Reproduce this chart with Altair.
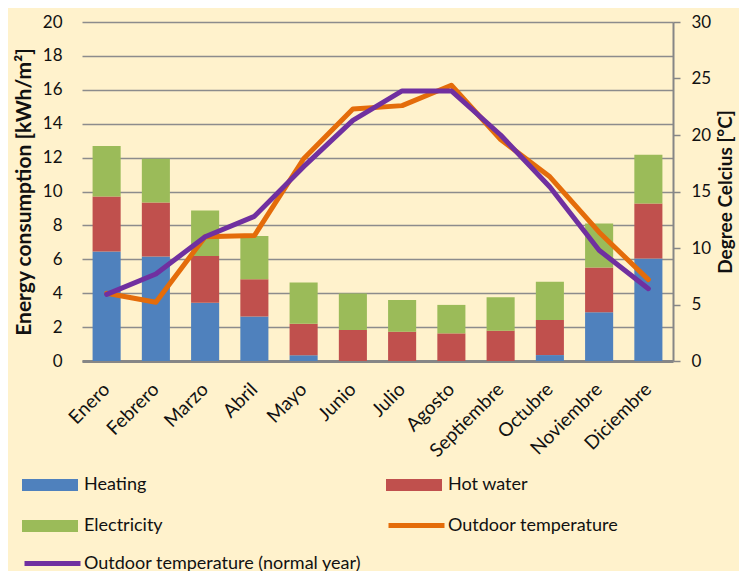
import altair as alt
import pandas as pd

months = ["Enero", "Febrero", "Marzo", "Abril", "Mayo", "Junio", "Julio",
          "Agosto", "Septiembre", "Octubre", "Noviembre", "Diciembre"]
heating = [6.46, 6.16, 3.44, 2.62, 0.34, 0.0, 0.0, 0.0, 0.0, 0.35, 2.88, 6.04]
hot_water = [3.24, 3.19, 2.76, 2.21, 1.86, 1.83, 1.73, 1.63, 1.79, 2.07, 2.63, 3.25]
electricity = [2.98, 2.58, 2.68, 2.55, 2.43, 2.15, 1.87, 1.68, 1.97, 2.25, 2.60, 2.88]
outdoor_temp = [6.0, 5.2, 11.0, 11.1, 17.9, 22.3, 22.6, 24.4, 19.6, 16.3, 11.4, 7.2]
normal_temp = [5.9, 7.7, 11.0, 12.8, 17.2, 21.3, 23.9, 23.9, 20.0, 15.4, 9.8, 6.4]

bar_series = ["Heating", "Hot water", "Electricity"]
bar_colors = ["#4F81BD", "#C0504D", "#9BBB59"]
left_ticks = list(range(0, 21, 2))
right_ticks = list(range(0, 31, 5))

FONT = "Lato"
TXT = "#111111"
GRID = "#8C8C8C"
LBL = 18

rows = []
for i, m in enumerate(months):
    for k, (name, vals) in enumerate(zip(bar_series, [heating, hot_water, electricity])):
        rows.append({"month": m, "series": name, "value": vals[i], "idx": k})
bars_df = pd.DataFrame(rows)
orange_df = pd.DataFrame({"month": months, "temp": outdoor_temp,
                          "series": ["Outdoor temperature"] * 12})
purple_df = pd.DataFrame({"month": months, "temp": normal_temp,
                          "series": ["Outdoor temperature (normal year)"] * 12})

x_enc = alt.X("month:N", sort=months, title=None,
              scale=alt.Scale(paddingInner=0.43, paddingOuter=0.215),
              axis=alt.Axis(labelAngle=-45, labelAlign="right", labelBaseline="middle",
                            labelPadding=25, labelFontSize=19, labelFont=FONT,
                            labelColor=TXT, ticks=False, domainColor="#868686",
                            domainWidth=3, grid=False))

rect_path = "M-1,-0.214L1,-0.214L1,0.214L-1,0.214Z"

bars = alt.Chart(bars_df).mark_bar().encode(
    x=x_enc,
    y=alt.Y("value:Q", stack="zero",
            scale=alt.Scale(domain=[0, 20], nice=False),
            axis=alt.Axis(values=left_ticks, grid=True, gridColor=GRID, gridWidth=1.3,
                          domain=False, ticks=False, labelPadding=20,
                          labelFontSize=17, labelFont=FONT, labelColor=TXT,
                          title="Energy consumption [kWh/m²]", titleFont=FONT,
                          titleFontSize=21, titleFontWeight="bold", titleColor=TXT,
                          titlePadding=8)),
    color=alt.Color("series:N", scale=alt.Scale(domain=bar_series, range=bar_colors),
                    legend=alt.Legend(orient="none", legendX=-60, legendY=435,
                                      columns=2, direction="horizontal", title=None,
                                      symbolType=rect_path,
                                      symbolSize=3136, symbolStrokeWidth=0,
                                      symbolOpacity=1,
                                      columnPadding=223, rowPadding=4,
                                      labelFont=FONT, labelFontSize=LBL, labelColor=TXT,
                                      labelOffset=6, padding=0)),
    order=alt.Order("idx:Q"),
)

orange = alt.Chart(orange_df).mark_line(strokeWidth=5, strokeCap="round",
                                        strokeJoin="round").encode(
    x=alt.X("month:N", sort=months),
    y=alt.Y("temp:Q", scale=alt.Scale(domain=[0, 30], nice=False),
            axis=alt.Axis(orient="right", values=right_ticks, grid=False,
                          domain=True, domainColor="#868686", domainWidth=2,
                          ticks=True, tickSize=7, tickColor="#868686", tickWidth=1.5,
                          labelPadding=11, labelFontSize=17, labelFont=FONT,
                          labelColor=TXT, title="Degree Celcius [°C]",
                          titleFont=FONT, titleFontSize=19, titleFontWeight="bold",
                          titleColor=TXT, titleAngle=270, titleBaseline="top",
                          titlePadding=6)),
    stroke=alt.Stroke("series:N",
                      scale=alt.Scale(domain=["Outdoor temperature"], range=["#E46C0A"]),
                      legend=alt.Legend(orient="none", legendX=304, legendY=473,
                                        title=None, symbolType="stroke",
                                        symbolSize=3136, symbolStrokeWidth=5,
                                        labelFont=FONT, labelFontSize=LBL,
                                        labelColor=TXT, labelOffset=1, padding=0,
                                        labelLimit=400)),
)

purple = alt.Chart(purple_df).mark_line(strokeWidth=5, strokeCap="round",
                                        strokeJoin="round").encode(
    x=alt.X("month:N", sort=months),
    y=alt.Y("temp:Q", scale=alt.Scale(domain=[0, 30], nice=False), axis=None),
    stroke=alt.Stroke("series:N",
                      scale=alt.Scale(domain=["Outdoor temperature (normal year)"],
                                      range=["#7030A0"]),
                      legend=alt.Legend(orient="none", legendX=-60, legendY=511,
                                        title=None, symbolType="stroke",
                                        symbolSize=3136, symbolStrokeWidth=5,
                                        labelFont=FONT, labelFontSize=LBL,
                                        labelColor=TXT, labelOffset=1, padding=0,
                                        labelLimit=400)),
)

chart = alt.layer(bars, orange, purple).resolve_scale(
    y="independent", stroke="independent"
).resolve_legend(stroke="independent").properties(
    width=591, height=339,
    autosize=alt.AutoSizeParams(type="none"),
    padding={"left": 74, "top": 14, "right": 66, "bottom": 210},
    background="#FFF2CC",
).configure_view(stroke=None)

chart.save("out.html", embed_options={"renderer": "svg", "actions": False})
